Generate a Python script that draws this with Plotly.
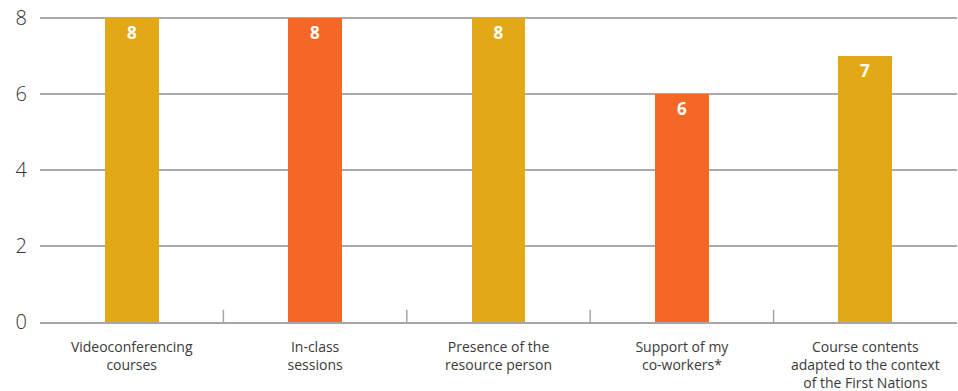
import plotly.graph_objects as go

categories = ["Videoconferencing<br>courses", "In-class<br>sessions", "Presence of the<br>resource person",
              "Support of my<br>co-workers*", "Course contents<br>adapted to the context<br>of the First Nations"]
values = [8, 8, 8, 6, 7]
colors = ["#E3A815", "#F26824", "#E3A815", "#F26824", "#E3A815"]
y_ticks = [0, 2, 4, 6, 8]

fig = go.Figure(go.Bar(
    x=list(range(len(categories))), y=values, marker=dict(color=colors, line=dict(width=0)),
    width=0.294, text=[str(v) for v in values], textposition="inside", insidetextanchor="end",
    textfont=dict(color="white", size=17, family="Open Sans", weight="bold"), cliponaxis=False,
))

shapes = []
for i in range(len(categories) - 1):
    shapes.append(dict(type="line", xref="x", yref="y", x0=i + 0.5, x1=i + 0.5, y0=0, y1=0.32,
                       line=dict(color="#A6A6A6", width=1.5)))
fig.update_layout(
    width=958, height=391, margin=dict(l=40, r=1, t=17, b=69),
    paper_bgcolor="white", plot_bgcolor="white", showlegend=False, shapes=shapes,
    bargap=0,
)
fig.update_xaxes(
    range=[-0.5, len(categories) - 0.5], tickmode="array",
    tickvals=list(range(len(categories))), ticktext=categories,
    tickfont=dict(family="Open Sans", size=14, color="#3a3a3a"),
    showgrid=False, zeroline=False, showline=True, linecolor="#A6A6A6", linewidth=2,
    ticks="", ticklabelstandoff=11, automargin=False,
)
fig.update_yaxes(
    range=[0, 8.03], tickvals=y_ticks, showgrid=True, gridcolor="#ABABAB", gridwidth=1.5,
    zeroline=False, showline=False, automargin=False,
    tickfont=dict(family="Open Sans", size=20, color="#333333", weight=300),
    ticklabelstandoff=12,
)
fig.write_html("out.html")
